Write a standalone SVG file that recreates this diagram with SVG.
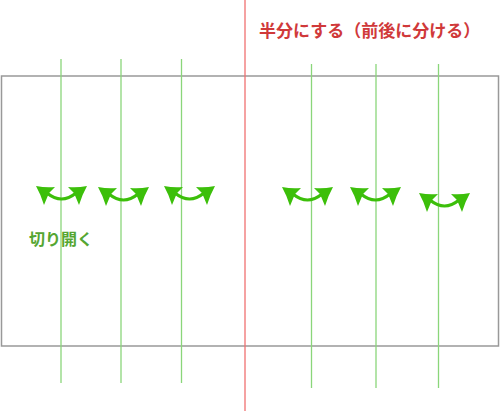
<svg xmlns="http://www.w3.org/2000/svg" width="500" height="411" viewBox="0 0 500 411">
<style>
.frame{fill:#fff;stroke:#999;stroke-width:1.5}
.cut{stroke:#8ad67a;stroke-width:1.3}
.half{stroke:#f07070;stroke-width:1.3}
.title{font-family:"Noto Sans CJK JP","Noto Sans",sans-serif;font-weight:bold;font-size:17px;fill:#d0393a}
.lbl{font-family:"Noto Sans CJK JP","Noto Sans",sans-serif;font-weight:bold;font-size:16px;fill:#55a632}
.arc{fill:none;stroke:#3cbf0a;stroke-width:3;stroke-linecap:round}
.head{fill:#3cbf0a}
</style>
<defs>
<g id="dbl">
<path class="arc" d="M11,7 Q25.5,19 40,7"/>
<path class="head" d="M0,0 Q10,2 19,1 L13,7 L8,19 Q5,9 0,0 Z"/>
<path class="head" d="M51,0 Q41,2 32,1 L38,7 L43,19 Q46,9 51,0 Z"/>
</g>
</defs>
<g id="sheet"><rect class="frame" x="1.5" y="76" width="497" height="270"/></g>
<g id="connectors">
<line class="cut" x1="61" y1="59" x2="61" y2="383"/>
<line class="cut" x1="121" y1="59" x2="121" y2="383"/>
<line class="cut" x1="181.5" y1="59" x2="181.5" y2="383"/>
<line class="cut" x1="311.5" y1="64" x2="311.5" y2="388"/>
<line class="cut" x1="376" y1="64" x2="376" y2="388"/>
<line class="cut" x1="438.5" y1="64" x2="438.5" y2="388"/>
<line class="half" x1="245" y1="0" x2="245" y2="411"/>
</g>
<g id="arrows">
<use href="#dbl" x="36" y="186"/>
<use href="#dbl" x="98" y="187"/>
<use href="#dbl" x="164" y="186"/>
<use href="#dbl" x="282" y="187"/>
<use href="#dbl" x="350" y="187"/>
<use href="#dbl" x="419" y="193"/>
</g>
<g id="title"><text class="title" x="259" y="37">半分にする（前後に分ける）</text></g>
<g id="label"><text class="lbl" x="29" y="245">切り開く</text></g>
</svg>
